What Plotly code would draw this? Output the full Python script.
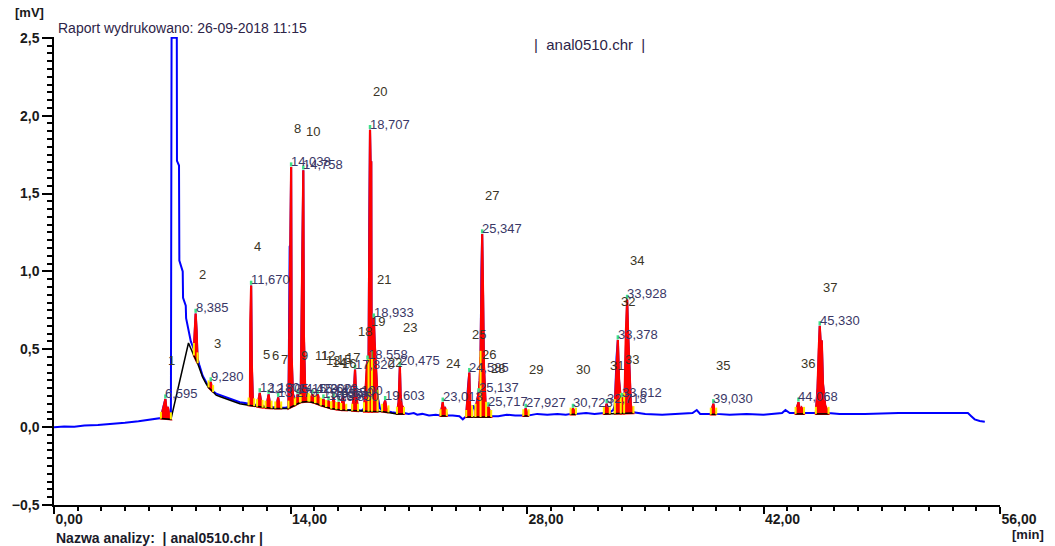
import numpy as np
import plotly.graph_objects as go

# ---------------- data ----------------
# detector signal (time [min], signal [mV])
sig_t = [0.00, 0.6, 1.2, 1.8, 2.6, 3.4, 4.2, 5.0, 5.6, 6.0, 6.33,
         6.45, 6.52, 6.595, 6.66, 6.74, 6.82, 6.92,
         6.96, 7.27, 7.28, 7.40, 7.42, 7.62, 7.64, 7.80, 7.82, 7.96, 8.10, 8.28,
         8.34, 8.385, 8.44, 8.50,
         8.6, 8.8, 9.0, 9.15, 9.22, 9.28, 9.34, 9.42,
         9.6, 9.85, 10.2, 10.6, 11.0, 11.3, 11.52,
         11.60, 11.62, 11.67, 11.71, 11.77, 11.85,
         12.02, 12.10, 12.18, 12.26, 12.35,
         12.52, 12.62, 12.705, 12.78, 12.88,
         13.10, 13.20, 13.27, 13.35, 13.45,
         13.70, 13.88, 13.95, 13.99, 14.038, 14.07, 14.14, 14.25,
         14.28, 14.36, 14.42, 14.49, 14.56,
         14.60, 14.68, 14.72, 14.758, 14.79, 14.86, 14.95, 15.05,
         15.12, 15.22, 15.30, 15.38, 15.45,
         15.48, 15.55, 15.62, 15.70, 15.78,
         15.80, 15.88, 15.95, 16.02, 16.10,
         16.12, 16.19, 16.25, 16.32, 16.40,
         16.42, 16.49, 16.55, 16.62, 16.70,
         16.72, 16.79, 16.85, 16.92, 16.98,
         17.00, 17.05, 17.10, 17.16, 17.30,
         17.50, 17.65, 17.74, 17.82, 17.88, 18.00,
         18.20, 18.35, 18.45, 18.52, 18.558, 18.60, 18.62,
         18.66, 18.707, 18.74, 18.78, 18.80, 18.82, 18.88, 18.933, 18.98, 19.05, 19.15,
         19.30, 19.42, 19.52, 19.603, 19.68, 19.80,
         20.00, 20.30, 20.40, 20.475, 20.52, 20.58, 20.65, 20.72,
         21.0, 21.3, 21.5, 21.8, 22.2, 22.6, 22.88,
         22.96, 23.013, 23.07, 23.14, 23.25,
         23.6, 24.0, 24.2, 24.30, 24.40, 24.50, 24.55, 24.585, 24.63, 24.70, 24.75,
         24.82, 24.88, 24.95, 25.05, 25.137, 25.20, 25.25, 25.30, 25.347, 25.40, 25.45, 25.55,
         25.62, 25.717, 25.80, 25.88,
         26.3, 26.8, 27.3, 27.78, 27.86, 27.927, 28.00, 28.10,
         28.6, 29.2, 29.8, 30.3, 30.58, 30.66, 30.723, 30.80, 30.90,
         31.5, 32.0, 32.55, 32.64, 32.718, 32.80, 32.90,
         33.10, 33.20, 33.30, 33.378, 33.45, 33.55, 33.612, 33.70, 33.78, 33.85, 33.928, 33.98, 34.05, 34.15,
         34.3, 35.0, 36.0, 37.0, 37.8, 38.05, 38.25, 38.88, 38.97, 39.030, 39.10, 39.20,
         40.0, 41.0, 42.0, 43.1, 43.3, 43.55, 43.90, 44.00, 44.068, 44.15, 44.25, 44.40,
         45.10, 45.20, 45.27, 45.330, 45.38, 45.45, 45.52, 45.65, 45.85,
         46.5, 48.0, 50.0, 52.0, 54.1, 54.3, 54.5, 54.8, 55.1]
sig_v = [0.000, 0.004, 0.002, 0.010, 0.014, 0.020, 0.028, 0.038, 0.048, 0.055, 0.058,
         0.12, 0.16, 0.18, 0.11, 0.13, 0.08, 0.055,
         2.50, 2.50, 1.71, 1.68, 1.07, 1.00, 0.83, 0.78, 0.70, 0.62, 0.55, 0.50,
         0.60, 0.73, 0.62, 0.44,
         0.40, 0.33, 0.29, 0.26, 0.28, 0.29, 0.25, 0.23,
         0.215, 0.205, 0.19, 0.175, 0.16, 0.155, 0.15,
         0.18, 0.68, 0.91, 0.40, 0.18, 0.145,
         0.14, 0.17, 0.22, 0.16, 0.135,
         0.13, 0.16, 0.21, 0.15, 0.13,
         0.125, 0.15, 0.19, 0.14, 0.125,
         0.125, 0.13, 1.16, 1.17, 1.67, 0.45, 0.22, 0.15,
         0.15, 0.18, 0.21, 0.18, 0.16,
         0.17, 1.07, 1.07, 1.65, 0.60, 0.28, 0.21, 0.18,
         0.175, 0.19, 0.21, 0.18, 0.165,
         0.16, 0.18, 0.21, 0.17, 0.15,
         0.145, 0.16, 0.18, 0.15, 0.135,
         0.13, 0.15, 0.17, 0.14, 0.125,
         0.125, 0.15, 0.19, 0.14, 0.12,
         0.12, 0.14, 0.16, 0.13, 0.115,
         0.115, 0.16, 0.20, 0.15, 0.11,
         0.11, 0.11, 0.20, 0.37, 0.22, 0.11,
         0.105, 0.12, 0.25, 0.40, 0.43, 0.40, 0.40,
         1.30, 1.91, 1.70, 1.70, 0.55, 0.45, 0.55, 0.70, 0.55, 0.40, 0.20,
         0.12, 0.11, 0.14, 0.17, 0.12, 0.10,
         0.095, 0.09, 0.16, 0.39, 0.20, 0.14, 0.13, 0.09,
         0.085, 0.09, 0.08, 0.085, 0.075, 0.08, 0.075,
         0.13, 0.16, 0.10, 0.13, 0.075,
         0.075, 0.07, 0.05, 0.06, 0.07, 0.25, 0.33, 0.35, 0.14, 0.12, 0.10,
         0.14, 0.13, 0.11, 0.18, 0.22, 0.30, 0.45, 1.00, 1.24, 0.85, 0.40, 0.14,
         0.10, 0.13, 0.09, 0.07,
         0.07, 0.08, 0.075, 0.075, 0.10, 0.12, 0.09, 0.075,
         0.085, 0.08, 0.085, 0.08, 0.085, 0.10, 0.12, 0.10, 0.085,
         0.09, 0.085, 0.09, 0.13, 0.15, 0.11, 0.095,
         0.11, 0.14, 0.45, 0.56, 0.30, 0.18, 0.19, 0.15, 0.20, 0.60, 0.82, 0.62, 0.42, 0.14,
         0.095, 0.085, 0.08, 0.085, 0.09, 0.11, 0.085, 0.085, 0.13, 0.15, 0.10, 0.085,
         0.08, 0.085, 0.08, 0.09, 0.11, 0.09, 0.09, 0.14, 0.16, 0.11, 0.125, 0.09,
         0.09, 0.25, 0.50, 0.65, 0.55, 0.55, 0.28, 0.14, 0.09,
         0.085, 0.085, 0.09, 0.09, 0.09, 0.07, 0.05, 0.04, 0.035]

# integration baseline (NaN separates the drawn segments)
base_t = [6.33, 6.92, 7.96, 8.10, 8.28, 8.50, 8.8, 9.0, 9.15, 9.42, 9.6, 9.85, 10.2, 10.6, 11.0,
          11.52, 11.85, 12.35, 13.0, 13.88, 14.25, 14.6, 15.05, 15.45, 15.78, 16.4, 17.0, 17.65,
          18.35, 18.9, 19.42, 19.80, 20.30, 20.72, np.nan,
          22.88, 23.25, np.nan,
          24.40, 25.1, 25.88, np.nan,
          27.78, 28.10, np.nan,
          30.58, 30.90, np.nan,
          32.55, 33.4, 34.30, np.nan,
          38.88, 39.20, np.nan,
          43.90, 44.40, np.nan,
          45.10, 45.85]
base_v = [0.055, 0.05, 0.54, 0.50, 0.46, 0.41, 0.32, 0.28, 0.255, 0.225, 0.205, 0.195, 0.18, 0.165, 0.15,
          0.14, 0.135, 0.125, 0.12, 0.12, 0.14, 0.16, 0.165, 0.155, 0.14, 0.12, 0.11, 0.105,
          0.10, 0.10, 0.10, 0.095, 0.085, 0.085, np.nan,
          0.072, 0.072, np.nan,
          0.065, 0.065, 0.065, np.nan,
          0.072, 0.072, np.nan,
          0.082, 0.082, np.nan,
          0.085, 0.087, 0.09, np.nan,
          0.082, 0.082, np.nan,
          0.085, 0.085, np.nan,
          0.085, 0.085]

# peak table: number, retention time, integration start and end [min]
peak_no = list(range(1, 38))
peak_rt = [6.595, 8.385, 9.280, 11.670, 12.180, 12.705, 13.270, 14.038, 14.420, 14.758,
           15.300, 15.620, 15.950, 16.250, 16.550, 16.850, 17.100, 17.820, 18.558, 18.707,
           18.933, 19.603, 20.475, 23.013, 24.585, 25.137, 25.347, 25.717, 27.927, 30.723,
           32.718, 33.378, 33.612, 33.928, 39.030, 44.068, 45.330]
peak_start = [6.33, 8.28, 9.15, 11.52, 12.02, 12.52, 13.10, 13.88, 14.28, 14.60,
              15.12, 15.48, 15.80, 16.12, 16.42, 16.72, 17.00, 17.65, 18.35, 18.62,
              18.82, 19.42, 20.30, 22.88, 24.40, 24.95, 25.25, 25.58, 27.78, 30.58,
              32.55, 33.20, 33.55, 33.75, 38.88, 43.90, 45.10]
peak_end = [6.92, 8.50, 9.42, 11.85, 12.35, 12.88, 13.45, 14.25, 14.56, 15.05,
            15.45, 15.78, 16.10, 16.40, 16.70, 16.98, 17.30, 18.00, 18.62, 18.82,
            19.15, 19.80, 20.72, 23.25, 24.75, 25.25, 25.58, 25.88, 28.10, 30.90,
            32.90, 33.55, 33.75, 34.30, 39.20, 44.40, 45.85]

# ---------------- derived drawing data ----------------
st = np.array(sig_t, float)
sv = np.array(sig_v, float)
bt_all = np.array(base_t, float)
bv_all = np.array(base_v, float)
ok = ~np.isnan(bt_all)
bt, bv = bt_all[ok], bv_all[ok]


def sig(t):
    return float(np.interp(t, st, sv))


def base(t):
    return float(np.interp(t, bt, bv))


fill_x, fill_y = [], []
for a, b in zip(peak_start, peak_end):
    inner = (st > a) & (st < b)
    xs = [a] + list(st[inner]) + [b]
    ys = [sig(a)] + list(sv[inner]) + [sig(b)]
    xs += [b, a]
    ys += [base(b), base(a)]
    fill_x += xs + [xs[0], None]
    fill_y += ys + [ys[0], None]

bounds = sorted(set(peak_start) | set(peak_end))
yel_x, yel_y = [], []
for t in bounds:
    lo = base(t)
    hi = max(sig(t), lo) + 0.04
    yel_x += [t, t, None]
    yel_y += [lo, hi, None]

grn_x, grn_y = [], []
apex_v = [sig(t) for t in peak_rt]
for t, v in zip(peak_rt, apex_v):
    grn_x += [t, t, None]
    grn_y += [v + 0.004, v + 0.03, None]

fig = go.Figure()
fig.add_trace(go.Scatter(x=st, y=sv, mode="lines", line=dict(color="#0000ff", width=2),
                         hoverinfo="skip", showlegend=False))
fig.add_trace(go.Scatter(x=fill_x, y=fill_y, mode="lines", fill="toself", fillcolor="#ff0000",
                         line=dict(color="#ff0000", width=2.2), hoverinfo="skip", showlegend=False))
fig.add_trace(go.Scatter(x=bt_all, y=bv_all, mode="lines", line=dict(color="#000000", width=1.5),
                         connectgaps=False, hoverinfo="skip", showlegend=False))
fig.add_trace(go.Scatter(x=yel_x, y=yel_y, mode="lines", line=dict(color="#ffee00", width=2),
                         hoverinfo="skip", showlegend=False))
fig.add_trace(go.Scatter(x=grn_x, y=grn_y, mode="lines", line=dict(color="#3fe08a", width=2.5),
                         hoverinfo="skip", showlegend=False))

lab_font = "Liberation Sans, Arial, sans-serif"
for n, t, v in zip(peak_no, peak_rt, apex_v):
    fig.add_annotation(x=t, y=v, text=f"{t:.3f}".replace(".", ","), showarrow=False,
                       xanchor="left", yanchor="bottom", yshift=-4, xshift=-2,
                       font=dict(family=lab_font, size=13, color="#3a3766"))
    fig.add_annotation(x=t, y=v, text=str(n), showarrow=False,
                       xanchor="left", yanchor="bottom", yshift=29, xshift=1,
                       font=dict(family=lab_font, size=13, color="#3b3526"))

narrow = "Liberation Sans Narrow, Arial Narrow, Liberation Sans, Arial, sans-serif"
fig.add_annotation(xref="paper", yref="paper", x=-0.043, y=1.053, text="<b>[mV]</b>",
                   showarrow=False, xanchor="left", yanchor="middle",
                   font=dict(family=narrow, size=13, color="#1a1a1a"))
fig.add_annotation(xref="paper", yref="paper", x=0.002, y=1.019,
                   text="Raport wydrukowano: 26-09-2018 11:15",
                   showarrow=False, xanchor="left", yanchor="middle",
                   font=dict(family=lab_font, size=14, color="#2d2448"))
fig.add_annotation(xref="paper", yref="paper", x=0.505, y=0.983, text="|  anal0510.chr  |",
                   showarrow=False, xanchor="left", yanchor="middle",
                   font=dict(family=lab_font, size=15, color="#2d2448"))
fig.add_annotation(xref="paper", yref="paper", x=0.0, y=-0.0705,
                   text="<b>Nazwa analizy:  | anal0510.chr |</b>",
                   showarrow=False, xanchor="left", yanchor="middle",
                   font=dict(family=narrow, size=14, color="#1a1a2a"))
fig.add_annotation(xref="paper", yref="paper", x=1.0105, y=-0.064, text="<b>[min]</b>",
                   showarrow=False, xanchor="left", yanchor="middle",
                   font=dict(family=narrow, size=13, color="#1a1a2a"))

tick_font = dict(family=narrow, size=14, color="#1a1a1a", weight="bold")
fig.update_layout(
    width=1055, height=546,
    margin=dict(l=48, r=55, t=37, b=41),
    paper_bgcolor="white", plot_bgcolor="white",
    separators=", ",
    showlegend=False,
    xaxis=dict(range=[0, 56], tick0=0, dtick=14, tickformat=".2f", showgrid=False, zeroline=False,
               showline=True, linecolor="black", linewidth=1.5, ticks="outside", ticklen=7,
               tickwidth=1.5, tickcolor="black", ticklabelposition="outside right",
               tickfont=tick_font,
               minor=dict(dtick=1.4, ticks="outside", ticklen=4, tickcolor="black", showgrid=False)),
    yaxis=dict(range=[-0.5, 2.505], tick0=0, dtick=0.5, tickformat=".1f", showgrid=False,
               zeroline=False, showline=True, linecolor="black", linewidth=1.5, ticks="outside",
               ticklen=10, tickwidth=1.5, tickcolor="black", tickfont=tick_font,
               minor=dict(dtick=0.05, ticks="outside", ticklen=5, tickcolor="black", showgrid=False)),
)

fig.write_html("out.html")
